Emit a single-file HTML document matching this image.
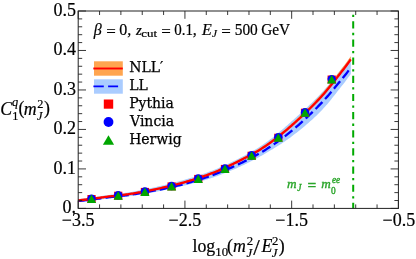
<!DOCTYPE html>
<html><head><meta charset="utf-8"><title>plot</title>
<style>
html,body{margin:0;padding:0;background:#fff;}
svg{display:block;will-change:transform}
text{font-family:"Liberation Serif",serif;stroke:#000;stroke-width:.2px;paint-order:stroke}
.i{font-style:italic}
.b{font-weight:bold}
.bi{font-weight:bold;font-style:italic}
.g text{fill:#2aa52a;stroke:#2aa52a;stroke-width:.35px}
.d{font-family:"DejaVu Serif","Liberation Serif",serif;stroke-width:.25px}
</style></head><body>
<svg width="416" height="259" viewBox="0 0 416 259">
<rect width="416" height="259" fill="#fff"/>
<path d="M78.20,199.10 L79.44,198.96 L80.68,198.82 L81.92,198.68 L83.16,198.54 L84.40,198.40 L85.63,198.26 L86.87,198.12 L88.11,197.97 L89.35,197.82 L90.59,197.67 L91.83,197.51 L93.07,197.34 L94.31,197.16 L95.55,196.97 L96.79,196.78 L98.03,196.58 L99.26,196.38 L100.50,196.18 L101.74,195.99 L102.98,195.80 L104.22,195.61 L105.46,195.44 L106.70,195.26 L107.94,195.10 L109.18,194.94 L110.42,194.78 L111.66,194.62 L112.89,194.46 L114.13,194.31 L115.37,194.16 L116.61,194.00 L117.85,193.85 L119.09,193.69 L120.33,193.53 L121.57,193.37 L122.81,193.20 L124.05,193.03 L125.29,192.86 L126.52,192.68 L127.76,192.49 L129.00,192.30 L130.24,192.09 L131.48,191.88 L132.72,191.67 L133.96,191.45 L135.20,191.23 L136.44,191.00 L137.68,190.77 L138.92,190.53 L140.15,190.29 L141.39,190.05 L142.63,189.81 L143.87,189.56 L145.11,189.31 L146.35,189.05 L147.59,188.79 L148.83,188.53 L150.07,188.26 L151.31,187.99 L152.55,187.72 L153.78,187.45 L155.02,187.17 L156.26,186.89 L157.50,186.61 L158.74,186.32 L159.98,186.04 L161.22,185.75 L162.46,185.46 L163.70,185.17 L164.94,184.88 L166.18,184.58 L167.41,184.28 L168.65,183.98 L169.89,183.67 L171.13,183.36 L172.37,183.05 L173.61,182.73 L174.85,182.41 L176.09,182.09 L177.33,181.76 L178.57,181.42 L179.81,181.08 L181.04,180.74 L182.28,180.39 L183.52,180.03 L184.76,179.67 L186.00,179.30 L187.24,178.94 L188.48,178.56 L189.72,178.19 L190.96,177.81 L192.20,177.43 L193.44,177.05 L194.67,176.66 L195.91,176.27 L197.15,175.87 L198.39,175.47 L199.63,175.07 L200.87,174.65 L202.11,174.24 L203.35,173.81 L204.59,173.38 L205.83,172.94 L207.07,172.50 L208.30,172.05 L209.54,171.59 L210.78,171.12 L212.02,170.65 L213.26,170.16 L214.50,169.67 L215.74,169.17 L216.98,168.66 L218.22,168.15 L219.46,167.62 L220.70,167.09 L221.93,166.55 L223.17,166.01 L224.41,165.46 L225.65,164.89 L226.89,164.33 L228.13,163.75 L229.37,163.17 L230.61,162.58 L231.85,161.98 L233.09,161.37 L234.33,160.76 L235.56,160.14 L236.80,159.51 L238.04,158.88 L239.28,158.24 L240.52,157.60 L241.76,156.95 L243.00,156.31 L244.24,155.65 L245.48,154.99 L246.72,154.33 L247.96,153.66 L249.19,152.97 L250.43,152.28 L251.67,151.58 L252.91,150.87 L254.15,150.15 L255.39,149.42 L256.63,148.67 L257.87,147.90 L259.11,147.13 L260.35,146.33 L261.59,145.52 L262.82,144.70 L264.06,143.85 L265.30,142.99 L266.54,142.10 L267.78,141.20 L269.02,140.28 L270.26,139.34 L271.50,138.39 L272.74,137.42 L273.98,136.43 L275.22,135.44 L276.45,134.43 L277.69,133.40 L278.93,132.37 L280.17,131.33 L281.41,130.27 L282.65,129.21 L283.89,128.14 L285.13,127.06 L286.37,125.98 L287.61,124.89 L288.85,123.80 L290.08,122.70 L291.32,121.60 L292.56,120.50 L293.80,119.40 L295.04,118.29 L296.28,117.18 L297.52,116.07 L298.76,114.95 L300.00,113.83 L301.24,112.71 L302.48,111.57 L303.71,110.43 L304.95,109.29 L306.19,108.13 L307.43,106.97 L308.67,105.79 L309.91,104.61 L311.15,103.41 L312.39,102.20 L313.63,100.98 L314.87,99.75 L316.11,98.50 L317.34,97.24 L318.58,95.96 L319.82,94.67 L321.06,93.36 L322.30,92.03 L323.54,90.66 L324.78,89.26 L326.02,87.84 L327.26,86.40 L328.50,84.93 L329.74,83.44 L330.97,81.94 L332.21,80.42 L333.45,78.89 L334.69,77.35 L335.93,75.80 L337.17,74.25 L338.41,72.70 L339.65,71.15 L340.89,69.60 L342.13,68.06 L343.37,66.53 L344.60,64.99 L345.84,63.40 L347.08,61.77 L348.32,60.12 L349.56,58.47 L350.80,56.83 L350.80,73.94 L349.56,75.64 L348.32,77.36 L347.08,79.07 L345.84,80.75 L344.60,82.38 L343.37,83.94 L342.13,85.50 L340.89,87.06 L339.65,88.64 L338.41,90.22 L337.17,91.81 L335.93,93.39 L334.69,94.96 L333.45,96.53 L332.21,98.09 L330.97,99.63 L329.74,101.15 L328.50,102.65 L327.26,104.13 L326.02,105.57 L324.78,106.99 L323.54,108.36 L322.30,109.70 L321.06,111.00 L319.82,112.26 L318.58,113.50 L317.34,114.72 L316.11,115.91 L314.87,117.09 L313.63,118.25 L312.39,119.39 L311.15,120.51 L309.91,121.62 L308.67,122.71 L307.43,123.79 L306.19,124.85 L304.95,125.90 L303.71,126.93 L302.48,127.96 L301.24,128.97 L300.00,129.97 L298.76,130.96 L297.52,131.94 L296.28,132.91 L295.04,133.87 L293.80,134.82 L292.56,135.77 L291.32,136.71 L290.08,137.64 L288.85,138.54 L287.61,139.43 L286.37,140.31 L285.13,141.17 L283.89,142.02 L282.65,142.85 L281.41,143.67 L280.17,144.48 L278.93,145.28 L277.69,146.06 L276.45,146.84 L275.22,147.61 L273.98,148.37 L272.74,149.13 L271.50,149.87 L270.26,150.61 L269.02,151.35 L267.78,152.08 L266.54,152.80 L265.30,153.52 L264.06,154.24 L262.82,154.95 L261.59,155.65 L260.35,156.35 L259.11,157.03 L257.87,157.71 L256.63,158.38 L255.39,159.04 L254.15,159.70 L252.91,160.35 L251.67,160.99 L250.43,161.62 L249.19,162.24 L247.96,162.86 L246.72,163.48 L245.48,164.08 L244.24,164.68 L243.00,165.27 L241.76,165.86 L240.52,166.44 L239.28,167.01 L238.04,167.58 L236.80,168.14 L235.56,168.70 L234.33,169.24 L233.09,169.78 L231.85,170.32 L230.61,170.84 L229.37,171.36 L228.13,171.87 L226.89,172.38 L225.65,172.87 L224.41,173.36 L223.17,173.85 L221.93,174.32 L220.70,174.79 L219.46,175.25 L218.22,175.70 L216.98,176.15 L215.74,176.59 L214.50,177.02 L213.26,177.44 L212.02,177.85 L210.78,178.26 L209.54,178.66 L208.30,179.05 L207.07,179.44 L205.83,179.81 L204.59,180.18 L203.35,180.55 L202.11,180.90 L200.87,181.26 L199.63,181.60 L198.39,181.95 L197.15,182.28 L195.91,182.61 L194.67,182.94 L193.44,183.27 L192.20,183.59 L190.96,183.91 L189.72,184.22 L188.48,184.53 L187.24,184.84 L186.00,185.15 L184.76,185.46 L183.52,185.76 L182.28,186.06 L181.04,186.36 L179.81,186.65 L178.57,186.94 L177.33,187.22 L176.09,187.50 L174.85,187.78 L173.61,188.05 L172.37,188.33 L171.13,188.60 L169.89,188.86 L168.65,189.13 L167.41,189.39 L166.18,189.65 L164.94,189.90 L163.70,190.16 L162.46,190.41 L161.22,190.67 L159.98,190.92 L158.74,191.17 L157.50,191.41 L156.26,191.66 L155.02,191.90 L153.78,192.14 L152.55,192.38 L151.31,192.61 L150.07,192.85 L148.83,193.07 L147.59,193.30 L146.35,193.52 L145.11,193.74 L143.87,193.95 L142.63,194.16 L141.39,194.37 L140.15,194.58 L138.92,194.78 L137.68,194.98 L136.44,195.17 L135.20,195.37 L133.96,195.56 L132.72,195.74 L131.48,195.92 L130.24,196.10 L129.00,196.27 L127.76,196.43 L126.52,196.59 L125.29,196.74 L124.05,196.88 L122.81,197.02 L121.57,197.16 L120.33,197.29 L119.09,197.42 L117.85,197.55 L116.61,197.67 L115.37,197.80 L114.13,197.92 L112.89,198.05 L111.66,198.17 L110.42,198.30 L109.18,198.43 L107.94,198.57 L106.70,198.70 L105.46,198.85 L104.22,198.99 L102.98,199.15 L101.74,199.32 L100.50,199.48 L99.26,199.66 L98.03,199.83 L96.79,200.00 L95.55,200.17 L94.31,200.34 L93.07,200.50 L91.83,200.65 L90.59,200.79 L89.35,200.92 L88.11,201.05 L86.87,201.17 L85.63,201.29 L84.40,201.41 L83.16,201.53 L81.92,201.64 L80.68,201.76 L79.44,201.88 L78.20,202.00Z" fill="#aaccff"/>
<path d="M78.20,199.40 L79.44,199.27 L80.68,199.13 L81.92,199.00 L83.16,198.87 L84.40,198.74 L85.63,198.61 L86.87,198.48 L88.11,198.34 L89.35,198.20 L90.59,198.05 L91.83,197.90 L93.07,197.73 L94.31,197.56 L95.55,197.38 L96.79,197.20 L98.03,197.01 L99.26,196.82 L100.50,196.64 L101.74,196.45 L102.98,196.27 L104.22,196.10 L105.46,195.94 L106.70,195.78 L107.94,195.63 L109.18,195.48 L110.42,195.34 L111.66,195.19 L112.89,195.05 L114.13,194.91 L115.37,194.78 L116.61,194.64 L117.85,194.50 L119.09,194.36 L120.33,194.21 L121.57,194.07 L122.81,193.92 L124.05,193.76 L125.29,193.60 L126.52,193.44 L127.76,193.27 L129.00,193.09 L130.24,192.90 L131.48,192.71 L132.72,192.51 L133.96,192.31 L135.20,192.10 L136.44,191.89 L137.68,191.67 L138.92,191.45 L140.15,191.23 L141.39,191.01 L142.63,190.78 L143.87,190.54 L145.11,190.31 L146.35,190.06 L147.59,189.82 L148.83,189.57 L150.07,189.32 L151.31,189.07 L152.55,188.81 L153.78,188.55 L155.02,188.29 L156.26,188.02 L157.50,187.76 L158.74,187.49 L159.98,187.21 L161.22,186.94 L162.46,186.66 L163.70,186.38 L164.94,186.10 L166.18,185.81 L167.41,185.53 L168.65,185.24 L169.89,184.94 L171.13,184.64 L172.37,184.34 L173.61,184.03 L174.85,183.72 L176.09,183.41 L177.33,183.09 L178.57,182.76 L179.81,182.43 L181.04,182.09 L182.28,181.75 L183.52,181.40 L184.76,181.04 L186.00,180.68 L187.24,180.32 L188.48,179.95 L189.72,179.58 L190.96,179.20 L192.20,178.82 L193.44,178.44 L194.67,178.05 L195.91,177.65 L197.15,177.25 L198.39,176.85 L199.63,176.44 L200.87,176.02 L202.11,175.60 L203.35,175.16 L204.59,174.73 L205.83,174.28 L207.07,173.83 L208.30,173.37 L209.54,172.90 L210.78,172.43 L212.02,171.94 L213.26,171.45 L214.50,170.95 L215.74,170.44 L216.98,169.93 L218.22,169.40 L219.46,168.87 L220.70,168.33 L221.93,167.78 L223.17,167.23 L224.41,166.67 L225.65,166.10 L226.89,165.53 L228.13,164.95 L229.37,164.36 L230.61,163.76 L231.85,163.16 L233.09,162.55 L234.33,161.94 L235.56,161.32 L236.80,160.69 L238.04,160.06 L239.28,159.42 L240.52,158.78 L241.76,158.14 L243.00,157.50 L244.24,156.86 L245.48,156.21 L246.72,155.56 L247.96,154.90 L249.19,154.23 L250.43,153.56 L251.67,152.88 L252.91,152.18 L254.15,151.48 L255.39,150.77 L256.63,150.04 L257.87,149.30 L259.11,148.54 L260.35,147.77 L261.59,146.98 L262.82,146.18 L264.06,145.36 L265.30,144.52 L266.54,143.66 L267.78,142.79 L269.02,141.90 L270.26,141.00 L271.50,140.09 L272.74,139.16 L273.98,138.22 L275.22,137.27 L276.45,136.30 L277.69,135.32 L278.93,134.33 L280.17,133.32 L281.41,132.31 L282.65,131.28 L283.89,130.24 L285.13,129.19 L286.37,128.13 L287.61,127.06 L288.85,125.98 L290.08,124.89 L291.32,123.79 L292.56,122.68 L293.80,121.56 L295.04,120.44 L296.28,119.31 L297.52,118.16 L298.76,117.01 L300.00,115.85 L301.24,114.68 L302.48,113.51 L303.71,112.32 L304.95,111.12 L306.19,109.91 L307.43,108.69 L308.67,107.46 L309.91,106.21 L311.15,104.96 L312.39,103.69 L313.63,102.41 L314.87,101.12 L316.11,99.81 L317.34,98.49 L318.58,97.16 L319.82,95.81 L321.06,94.45 L322.30,93.06 L323.54,91.64 L324.78,90.19 L326.02,88.71 L327.26,87.20 L328.50,85.68 L329.74,84.13 L330.97,82.56 L332.21,80.98 L333.45,79.39 L334.69,77.79 L335.93,76.18 L337.17,74.57 L338.41,72.95 L339.65,71.34 L340.89,69.72 L342.13,68.12 L343.37,66.52 L344.60,64.91 L345.84,63.25 L347.08,61.54 L348.32,59.81 L349.56,58.07 L350.80,56.34 L350.80,61.04 L349.56,62.73 L348.32,64.43 L347.08,66.13 L345.84,67.80 L344.60,69.43 L343.37,71.00 L342.13,72.57 L340.89,74.14 L339.65,75.72 L338.41,77.30 L337.17,78.88 L335.93,80.46 L334.69,82.04 L333.45,83.61 L332.21,85.17 L330.97,86.72 L329.74,88.25 L328.50,89.77 L327.26,91.26 L326.02,92.74 L324.78,94.18 L323.54,95.61 L322.30,97.00 L321.06,98.36 L319.82,99.69 L318.58,101.01 L317.34,102.32 L316.11,103.61 L314.87,104.89 L313.63,106.15 L312.39,107.40 L311.15,108.64 L309.91,109.87 L308.67,111.09 L307.43,112.30 L306.19,113.49 L304.95,114.67 L303.71,115.85 L302.48,117.01 L301.24,118.16 L300.00,119.31 L298.76,120.44 L297.52,121.57 L296.28,122.69 L295.04,123.80 L293.80,124.90 L292.56,125.99 L291.32,127.08 L290.08,128.16 L288.85,129.23 L287.61,130.29 L286.37,131.34 L285.13,132.38 L283.89,133.40 L282.65,134.42 L281.41,135.43 L280.17,136.42 L278.93,137.41 L277.69,138.38 L276.45,139.34 L275.22,140.28 L273.98,141.22 L272.74,142.14 L271.50,143.05 L270.26,143.95 L269.02,144.83 L267.78,145.70 L266.54,146.55 L265.30,147.39 L264.06,148.21 L262.82,149.02 L261.59,149.81 L260.35,150.58 L259.11,151.33 L257.87,152.07 L256.63,152.80 L255.39,153.51 L254.15,154.21 L252.91,154.90 L251.67,155.57 L250.43,156.24 L249.19,156.90 L247.96,157.55 L246.72,158.20 L245.48,158.84 L244.24,159.47 L243.00,160.10 L241.76,160.73 L240.52,161.35 L239.28,161.98 L238.04,162.60 L236.80,163.22 L235.56,163.84 L234.33,164.44 L233.09,165.05 L231.85,165.64 L230.61,166.23 L229.37,166.82 L228.13,167.40 L226.89,167.97 L225.65,168.53 L224.41,169.09 L223.17,169.64 L221.93,170.18 L220.70,170.72 L219.46,171.25 L218.22,171.77 L216.98,172.28 L215.74,172.79 L214.50,173.29 L213.26,173.78 L212.02,174.26 L210.78,174.74 L209.54,175.21 L208.30,175.66 L207.07,176.12 L205.83,176.56 L204.59,177.00 L203.35,177.43 L202.11,177.85 L200.87,178.27 L199.63,178.68 L198.39,179.08 L197.15,179.48 L195.91,179.87 L194.67,180.26 L193.44,180.64 L192.20,181.02 L190.96,181.39 L189.72,181.76 L188.48,182.13 L187.24,182.49 L186.00,182.85 L184.76,183.20 L183.52,183.55 L182.28,183.90 L181.04,184.24 L179.81,184.57 L178.57,184.89 L177.33,185.22 L176.09,185.53 L174.85,185.84 L173.61,186.15 L172.37,186.45 L171.13,186.75 L169.89,187.04 L168.65,187.33 L167.41,187.62 L166.18,187.91 L164.94,188.19 L163.70,188.46 L162.46,188.74 L161.22,189.01 L159.98,189.29 L158.74,189.55 L157.50,189.82 L156.26,190.09 L155.02,190.35 L153.78,190.61 L152.55,190.87 L151.31,191.12 L150.07,191.37 L148.83,191.62 L147.59,191.87 L146.35,192.11 L145.11,192.35 L143.87,192.58 L142.63,192.81 L141.39,193.04 L140.15,193.26 L138.92,193.48 L137.68,193.70 L136.44,193.92 L135.20,194.12 L133.96,194.33 L132.72,194.53 L131.48,194.73 L130.24,194.92 L129.00,195.11 L127.76,195.28 L126.52,195.45 L125.29,195.62 L124.05,195.77 L122.81,195.93 L121.57,196.08 L120.33,196.22 L119.09,196.36 L117.85,196.50 L116.61,196.64 L115.37,196.78 L114.13,196.92 L112.89,197.06 L111.66,197.20 L110.42,197.34 L109.18,197.48 L107.94,197.63 L106.70,197.78 L105.46,197.94 L104.22,198.10 L102.98,198.28 L101.74,198.45 L100.50,198.64 L99.26,198.82 L98.03,199.01 L96.79,199.20 L95.55,199.38 L94.31,199.56 L93.07,199.73 L91.83,199.90 L90.59,200.05 L89.35,200.20 L88.11,200.34 L86.87,200.48 L85.63,200.61 L84.40,200.74 L83.16,200.87 L81.92,201.00 L80.68,201.13 L79.44,201.27 L78.20,201.40Z" fill="#ffa550"/>
<path d="M78.20,201.00 L79.44,200.87 L80.68,200.74 L81.92,200.62 L83.16,200.49 L84.40,200.36 L85.63,200.23 L86.87,200.10 L88.11,199.97 L89.35,199.83 L90.59,199.69 L91.83,199.54 L93.07,199.38 L94.31,199.21 L95.55,199.04 L96.79,198.86 L98.03,198.68 L99.26,198.49 L100.50,198.31 L101.74,198.14 L102.98,197.96 L104.22,197.80 L105.46,197.64 L106.70,197.49 L107.94,197.35 L109.18,197.21 L110.42,197.07 L111.66,196.94 L112.89,196.80 L114.13,196.67 L115.37,196.54 L116.61,196.41 L117.85,196.28 L119.09,196.14 L120.33,196.01 L121.57,195.87 L122.81,195.73 L124.05,195.58 L125.29,195.43 L126.52,195.28 L127.76,195.12 L129.00,194.95 L130.24,194.77 L131.48,194.59 L132.72,194.40 L133.96,194.21 L135.20,194.01 L136.44,193.82 L137.68,193.61 L138.92,193.41 L140.15,193.20 L141.39,192.99 L142.63,192.78 L143.87,192.56 L145.11,192.34 L146.35,192.11 L147.59,191.89 L148.83,191.66 L150.07,191.43 L151.31,191.20 L152.55,190.96 L153.78,190.73 L155.02,190.49 L156.26,190.24 L157.50,190.00 L158.74,189.75 L159.98,189.51 L161.22,189.26 L162.46,189.01 L163.70,188.75 L164.94,188.50 L166.18,188.24 L167.41,187.98 L168.65,187.71 L169.89,187.45 L171.13,187.17 L172.37,186.90 L173.61,186.62 L174.85,186.33 L176.09,186.05 L177.33,185.75 L178.57,185.45 L179.81,185.15 L181.04,184.84 L182.28,184.52 L183.52,184.19 L184.76,183.86 L186.00,183.53 L187.24,183.19 L188.48,182.84 L189.72,182.49 L190.96,182.14 L192.20,181.77 L193.44,181.41 L194.67,181.04 L195.91,180.67 L197.15,180.28 L198.39,179.90 L199.63,179.51 L200.87,179.11 L202.11,178.71 L203.35,178.30 L204.59,177.89 L205.83,177.47 L207.07,177.05 L208.30,176.62 L209.54,176.18 L210.78,175.74 L212.02,175.29 L213.26,174.84 L214.50,174.38 L215.74,173.91 L216.98,173.45 L218.22,172.97 L219.46,172.49 L220.70,172.00 L221.93,171.51 L223.17,171.01 L224.41,170.50 L225.65,169.99 L226.89,169.47 L228.13,168.95 L229.37,168.41 L230.61,167.88 L231.85,167.33 L233.09,166.77 L234.33,166.21 L235.56,165.64 L236.80,165.07 L238.04,164.48 L239.28,163.89 L240.52,163.30 L241.76,162.70 L243.00,162.10 L244.24,161.49 L245.48,160.88 L246.72,160.26 L247.96,159.64 L249.19,159.01 L250.43,158.37 L251.67,157.72 L252.91,157.07 L254.15,156.40 L255.39,155.73 L256.63,155.04 L257.87,154.35 L259.11,153.64 L260.35,152.92 L261.59,152.19 L262.82,151.44 L264.06,150.68 L265.30,149.91 L266.54,149.13 L267.78,148.33 L269.02,147.53 L270.26,146.72 L271.50,145.89 L272.74,145.06 L273.98,144.22 L275.22,143.36 L276.45,142.50 L277.69,141.62 L278.93,140.73 L280.17,139.83 L281.41,138.92 L282.65,138.00 L283.89,137.06 L285.13,136.11 L286.37,135.15 L287.61,134.17 L288.85,133.18 L290.08,132.18 L291.32,131.16 L292.56,130.13 L293.80,129.09 L295.04,128.03 L296.28,126.97 L297.52,125.89 L298.76,124.80 L300.00,123.70 L301.24,122.60 L302.48,121.47 L303.71,120.34 L304.95,119.20 L306.19,118.05 L307.43,116.88 L308.67,115.71 L309.91,114.52 L311.15,113.33 L312.39,112.12 L313.63,110.91 L314.87,109.68 L316.11,108.44 L317.34,107.19 L318.58,105.93 L319.82,104.66 L321.06,103.39 L322.30,102.09 L323.54,100.76 L324.78,99.40 L326.02,98.02 L327.26,96.62 L328.50,95.20 L329.74,93.76 L330.97,92.30 L332.21,90.83 L333.45,89.35 L334.69,87.85 L335.93,86.35 L337.17,84.85 L338.41,83.34 L339.65,81.83 L340.89,80.32 L342.13,78.81 L343.37,77.31 L344.60,75.80 L345.84,74.21 L347.08,72.57 L348.32,70.89 L349.56,69.20 L350.80,67.53" fill="none" stroke="#0000ff" stroke-width="2.3" stroke-dasharray="9.720025760902692 4.000"/>
<path d="M78.20,200.40 L79.44,200.27 L80.68,200.13 L81.92,200.00 L83.16,199.87 L84.40,199.74 L85.63,199.61 L86.87,199.48 L88.11,199.34 L89.35,199.20 L90.59,199.05 L91.83,198.90 L93.07,198.73 L94.31,198.56 L95.55,198.38 L96.79,198.20 L98.03,198.01 L99.26,197.82 L100.50,197.64 L101.74,197.45 L102.98,197.27 L104.22,197.10 L105.46,196.94 L106.70,196.78 L107.94,196.63 L109.18,196.48 L110.42,196.34 L111.66,196.20 L112.89,196.06 L114.13,195.92 L115.37,195.78 L116.61,195.64 L117.85,195.50 L119.09,195.36 L120.33,195.22 L121.57,195.07 L122.81,194.92 L124.05,194.77 L125.29,194.61 L126.52,194.45 L127.76,194.28 L129.00,194.10 L130.24,193.92 L131.48,193.72 L132.72,193.53 L133.96,193.32 L135.20,193.12 L136.44,192.91 L137.68,192.70 L138.92,192.48 L140.15,192.26 L141.39,192.03 L142.63,191.80 L143.87,191.57 L145.11,191.34 L146.35,191.10 L147.59,190.86 L148.83,190.61 L150.07,190.36 L151.31,190.11 L152.55,189.86 L153.78,189.60 L155.02,189.34 L156.26,189.07 L157.50,188.81 L158.74,188.54 L159.98,188.27 L161.22,188.00 L162.46,187.72 L163.70,187.45 L164.94,187.17 L166.18,186.89 L167.41,186.60 L168.65,186.31 L169.89,186.02 L171.13,185.73 L172.37,185.43 L173.61,185.12 L174.85,184.82 L176.09,184.50 L177.33,184.19 L178.57,183.86 L179.81,183.54 L181.04,183.20 L182.28,182.86 L183.52,182.52 L184.76,182.17 L186.00,181.81 L187.24,181.45 L188.48,181.09 L189.72,180.72 L190.96,180.35 L192.20,179.98 L193.44,179.60 L194.67,179.21 L195.91,178.82 L197.15,178.43 L198.39,178.03 L199.63,177.62 L200.87,177.21 L202.11,176.79 L203.35,176.37 L204.59,175.94 L205.83,175.50 L207.07,175.05 L208.30,174.60 L209.54,174.14 L210.78,173.67 L212.02,173.19 L213.26,172.71 L214.50,172.21 L215.74,171.71 L216.98,171.20 L218.22,170.69 L219.46,170.16 L220.70,169.63 L221.93,169.09 L223.17,168.55 L224.41,167.99 L225.65,167.43 L226.89,166.87 L228.13,166.30 L229.37,165.72 L230.61,165.13 L231.85,164.54 L233.09,163.94 L234.33,163.33 L235.56,162.72 L236.80,162.10 L238.04,161.48 L239.28,160.85 L240.52,160.23 L241.76,159.60 L243.00,158.97 L244.24,158.33 L245.48,157.70 L246.72,157.05 L247.96,156.41 L249.19,155.75 L250.43,155.09 L251.67,154.42 L252.91,153.74 L254.15,153.05 L255.39,152.34 L256.63,151.63 L257.87,150.90 L259.11,150.16 L260.35,149.40 L261.59,148.62 L262.82,147.83 L264.06,147.02 L265.30,146.20 L266.54,145.35 L267.78,144.49 L269.02,143.62 L270.26,142.74 L271.50,141.84 L272.74,140.92 L273.98,140.00 L275.22,139.06 L276.45,138.11 L277.69,137.14 L278.93,136.17 L280.17,135.18 L281.41,134.18 L282.65,133.17 L283.89,132.15 L285.13,131.11 L286.37,130.07 L287.61,129.02 L288.85,127.95 L290.08,126.88 L291.32,125.80 L292.56,124.70 L293.80,123.60 L295.04,122.50 L296.28,121.38 L297.52,120.26 L298.76,119.13 L300.00,117.98 L301.24,116.84 L302.48,115.68 L303.71,114.51 L304.95,113.33 L306.19,112.14 L307.43,110.94 L308.67,109.73 L309.91,108.50 L311.15,107.27 L312.39,106.02 L313.63,104.76 L314.87,103.49 L316.11,102.21 L317.34,100.91 L318.58,99.60 L319.82,98.27 L321.06,96.93 L322.30,95.57 L323.54,94.17 L324.78,92.74 L326.02,91.28 L327.26,89.80 L328.50,88.30 L329.74,86.78 L330.97,85.24 L332.21,83.68 L333.45,82.12 L334.69,80.54 L335.93,78.96 L337.17,77.37 L338.41,75.78 L339.65,74.19 L340.89,72.60 L342.13,71.02 L343.37,69.45 L344.60,67.87 L345.84,66.23 L347.08,64.56 L348.32,62.85 L349.56,61.14 L350.80,59.44" fill="none" stroke="#ff0000" stroke-width="2.3"/>
<rect x="87.44" y="195.00" width="8.2" height="8" fill="#ff0000"/>
<rect x="114.12" y="191.70" width="8.2" height="8" fill="#ff0000"/>
<rect x="140.81" y="187.90" width="8.2" height="8" fill="#ff0000"/>
<rect x="167.49" y="182.40" width="8.2" height="8" fill="#ff0000"/>
<rect x="194.17" y="174.90" width="8.2" height="8" fill="#ff0000"/>
<rect x="220.86" y="164.90" width="8.2" height="8" fill="#ff0000"/>
<rect x="247.54" y="151.70" width="8.2" height="8" fill="#ff0000"/>
<rect x="274.22" y="133.70" width="8.2" height="8" fill="#ff0000"/>
<rect x="300.91" y="108.70" width="8.2" height="8" fill="#ff0000"/>
<rect x="327.59" y="75.50" width="8.2" height="8" fill="#ff0000"/>
<circle cx="91.54" cy="198.60" r="4.2" fill="#0000ff"/>
<circle cx="118.22" cy="195.30" r="4.2" fill="#0000ff"/>
<circle cx="144.91" cy="191.50" r="4.2" fill="#0000ff"/>
<circle cx="171.59" cy="186.00" r="4.2" fill="#0000ff"/>
<circle cx="198.27" cy="178.50" r="4.2" fill="#0000ff"/>
<circle cx="224.96" cy="168.50" r="4.2" fill="#0000ff"/>
<circle cx="251.64" cy="155.30" r="4.2" fill="#0000ff"/>
<circle cx="278.32" cy="137.30" r="4.2" fill="#0000ff"/>
<circle cx="305.01" cy="112.30" r="4.2" fill="#0000ff"/>
<circle cx="331.69" cy="79.10" r="4.2" fill="#0000ff"/>
<path d="M91.54,194.50 L96.14,203.10 L86.94,203.10Z" fill="#00a600"/>
<path d="M118.22,191.20 L122.82,199.80 L113.62,199.80Z" fill="#00a600"/>
<path d="M144.91,187.40 L149.51,196.00 L140.31,196.00Z" fill="#00a600"/>
<path d="M171.59,181.90 L176.19,190.50 L166.99,190.50Z" fill="#00a600"/>
<path d="M198.27,174.40 L202.87,183.00 L193.67,183.00Z" fill="#00a600"/>
<path d="M224.96,164.40 L229.56,173.00 L220.36,173.00Z" fill="#00a600"/>
<path d="M251.64,151.20 L256.24,159.80 L247.04,159.80Z" fill="#00a600"/>
<path d="M278.32,133.20 L282.93,141.80 L273.72,141.80Z" fill="#00a600"/>
<path d="M305.01,108.20 L309.61,116.80 L300.41,116.80Z" fill="#00a600"/>
<path d="M331.69,75.00 L336.29,83.60 L327.09,83.60Z" fill="#00a600"/>
<path d="M353.2,208.4 L353.2,11.0" stroke="#00aa00" stroke-width="2" fill="none" stroke-dasharray="7.2 4.3 2.3 4.35" stroke-dashoffset="1.6"/>
<rect x="78.2" y="11.0" width="320.20" height="197.40" fill="none" stroke="#222" stroke-width="1"/>
<path d="M78.20,208.4v-7.8M78.20,11.0v7.8M99.55,208.4v-4.0M99.55,11.0v4.0M120.89,208.4v-4.0M120.89,11.0v4.0M142.24,208.4v-4.0M142.24,11.0v4.0M163.59,208.4v-4.0M163.59,11.0v4.0M184.93,208.4v-7.8M184.93,11.0v7.8M206.28,208.4v-4.0M206.28,11.0v4.0M227.63,208.4v-4.0M227.63,11.0v4.0M248.97,208.4v-4.0M248.97,11.0v4.0M270.32,208.4v-4.0M270.32,11.0v4.0M291.67,208.4v-7.8M291.67,11.0v7.8M313.01,208.4v-4.0M313.01,11.0v4.0M334.36,208.4v-4.0M334.36,11.0v4.0M355.71,208.4v-4.0M355.71,11.0v4.0M377.05,208.4v-4.0M377.05,11.0v4.0M398.40,208.4v-7.8M398.40,11.0v7.8M78.2,208.40h7.8M398.4,208.40h-7.8M78.2,200.50h4.0M398.4,200.50h-4.0M78.2,192.61h4.0M398.4,192.61h-4.0M78.2,184.71h4.0M398.4,184.71h-4.0M78.2,176.82h4.0M398.4,176.82h-4.0M78.2,168.92h7.8M398.4,168.92h-7.8M78.2,161.02h4.0M398.4,161.02h-4.0M78.2,153.13h4.0M398.4,153.13h-4.0M78.2,145.23h4.0M398.4,145.23h-4.0M78.2,137.34h4.0M398.4,137.34h-4.0M78.2,129.44h7.8M398.4,129.44h-7.8M78.2,121.54h4.0M398.4,121.54h-4.0M78.2,113.65h4.0M398.4,113.65h-4.0M78.2,105.75h4.0M398.4,105.75h-4.0M78.2,97.86h4.0M398.4,97.86h-4.0M78.2,89.96h7.8M398.4,89.96h-7.8M78.2,82.06h4.0M398.4,82.06h-4.0M78.2,74.17h4.0M398.4,74.17h-4.0M78.2,66.27h4.0M398.4,66.27h-4.0M78.2,58.38h4.0M398.4,58.38h-4.0M78.2,50.48h7.8M398.4,50.48h-7.8M78.2,42.58h4.0M398.4,42.58h-4.0M78.2,34.69h4.0M398.4,34.69h-4.0M78.2,26.79h4.0M398.4,26.79h-4.0M78.2,18.90h4.0M398.4,18.90h-4.0M78.2,11.00h7.8M398.4,11.00h-7.8" stroke="#222" stroke-width="0.9" fill="none"/>
<text x="75.9" y="213.30" font-size="18" text-anchor="end">0.</text>
<text x="75.9" y="173.82" font-size="18" text-anchor="end">0.1</text>
<text x="75.9" y="134.34" font-size="18" text-anchor="end">0.2</text>
<text x="75.9" y="94.86" font-size="18" text-anchor="end">0.3</text>
<text x="75.9" y="55.38" font-size="18" text-anchor="end">0.4</text>
<text x="75.9" y="15.90" font-size="18" text-anchor="end">0.5</text>
<text x="78.20" y="225.9" font-size="18" text-anchor="middle">−3.5</text>
<text x="184.93" y="225.9" font-size="18" text-anchor="middle">−2.5</text>
<text x="291.67" y="225.9" font-size="18" text-anchor="middle">−1.5</text>
<text x="398.90" y="225.9" font-size="18" text-anchor="middle">−0.5</text>
<text class="i" x="93.76" y="34.80" font-size="16.0">β</text>
<text class="r" x="106.15" y="36.70" font-size="17.0">=</text>
<text class="r" x="119.29" y="34.80" font-size="16.0">0</text>
<text class="r" x="127.29" y="34.80" font-size="16.0">,</text>
<text class="i" x="135.97" y="34.80" font-size="14.8">z</text>
<text class="r" transform="translate(141.70,36.80) scale(1.2530,1)" x="-0.39" y="0" font-size="10.3">cut</text>
<text class="r" x="161.15" y="36.70" font-size="17.0">=</text>
<text class="r" transform="translate(174.90,34.80) scale(0.9387,1)" x="-0.61" y="0" font-size="16.0">0.1</text>
<text class="r" x="192.79" y="34.80" font-size="16.0">,</text>
<text class="i" x="202.09" y="34.80" font-size="16.0">E</text>
<text class="i" x="211.93" y="37.20" font-size="11.2">J</text>
<text class="r" x="221.15" y="36.70" font-size="17.0">=</text>
<text class="r" transform="translate(235.60,34.80) scale(0.9617,1)" x="-0.93" y="0" font-size="16.0">500</text>
<text class="r" transform="translate(261.80,34.80) scale(0.9566,1)" x="-0.66" y="0" font-size="16.0">GeV</text>
<g class="g">
<text class="i" x="286.92" y="187.70" font-size="13.2">m</text>
<text class="i" x="297.16" y="190.50" font-size="9.4">J</text>
<text class="b" x="307.43" y="190.30" font-size="15.5">=</text>
<text class="i" x="321.22" y="187.70" font-size="13.2">m</text>
<text class="r" x="331.04" y="194.30" font-size="9.4">0</text>
<text class="i" x="331.91" y="183.10" font-size="9.4">ee</text>
</g>
<rect x="94" y="61.3" width="28.8" height="14.4" fill="#ffa550"/>
<path d="M93.3,68.5H122.8" stroke="#ff0000" stroke-width="1.9"/>
<rect x="94" y="79.3" width="28.8" height="14.4" fill="#aaccff"/>
<path d="M93.4,86.4H122.8" stroke="#0000ff" stroke-width="1.9" stroke-dasharray="10.4 4.3 10 100"/>
<rect x="103.8" y="99.5" width="9.4" height="9.2" fill="#ff0000"/>
<circle cx="108.5" cy="122" r="4.9" fill="#0000ff"/>
<path d="M108.5,135.2 L114.1,144.8 L102.9,144.8Z" fill="#00a600"/>
<text class="d" x="129.22" y="72.20" font-size="14">NLL′</text>
<text class="d" x="129.13" y="90.10" font-size="14">LL</text>
<text class="d" x="129.13" y="108.00" font-size="14">Pythia</text>
<text class="d" x="130.04" y="126.00" font-size="14">Vincia</text>
<text class="d" x="129.13" y="143.60" font-size="14">Herwig</text>
<text class="i" x="0.21" y="114.80" font-size="17.8">C</text>
<text class="i" x="11.99" y="106.30" font-size="12.3">q</text>
<text class="r" x="12.32" y="120.40" font-size="12.3">1</text>
<text class="r" x="18.42" y="114.00" font-size="17.8">(</text>
<text class="i" x="23.86" y="114.80" font-size="17.8">m</text>
<text class="r" x="37.16" y="107.60" font-size="12.3">2</text>
<text class="i" x="37.01" y="119.50" font-size="12.3">J</text>
<text class="r" x="44.03" y="114.00" font-size="17.8">)</text>
<text class="r" x="192.44" y="251.80" font-size="17.8">log</text>
<text class="r" x="215.28" y="256.20" font-size="12.8">10</text>
<text class="r" x="226.92" y="251.50" font-size="17.8">(</text>
<text class="i" x="232.96" y="251.80" font-size="17.8">m</text>
<text class="r" x="246.74" y="244.80" font-size="12.8">2</text>
<text class="i" x="246.41" y="256.50" font-size="12.8">J</text>
<text class="r" x="253.20" y="255.00" font-size="23.5">/</text>
<text class="i" x="261.51" y="251.80" font-size="17.8">E</text>
<text class="r" x="271.94" y="244.80" font-size="12.8">2</text>
<text class="i" x="271.71" y="256.50" font-size="12.8">J</text>
<text class="r" x="278.63" y="251.50" font-size="17.8">)</text>
</svg></body></html>
